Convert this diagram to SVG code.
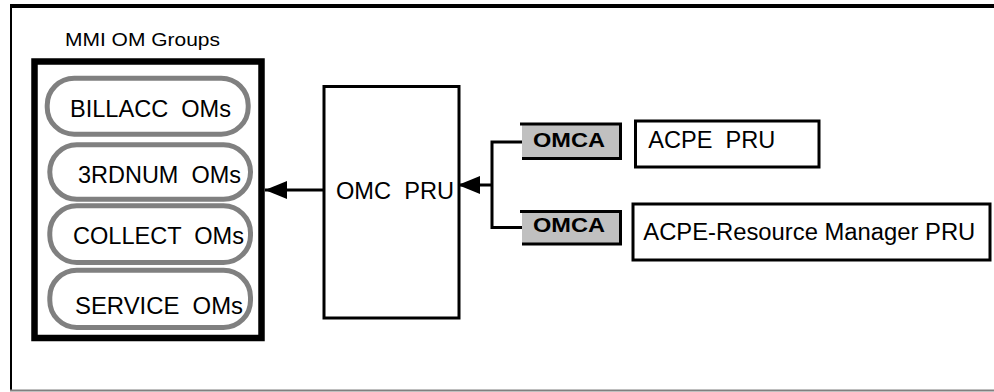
<svg xmlns="http://www.w3.org/2000/svg" width="994" height="392" viewBox="0 0 994 392">
<style>
text{font-family:"Liberation Sans",Arial,sans-serif;fill:#000;white-space:pre}
.t22{font-size:23px}
.lbl{font-size:19px}
.bold{font-size:21px;font-weight:bold}
.pill{fill:#fff;stroke:#808080;stroke-width:5}
.box{fill:#fff;stroke:#000;stroke-width:3}
.conn{fill:none;stroke:#000;stroke-width:3}
</style>
<defs>
<marker id="arr" markerUnits="userSpaceOnUse" markerWidth="22" markerHeight="18" refX="22" refY="9" orient="auto">
<path d="M0,0 L22,9 L0,18 Z" fill="#000"/>
</marker>
</defs>
<rect width="994" height="392" fill="#fff"/>
<g id="frame">
<line x1="10" y1="6" x2="994" y2="6" stroke="#000" stroke-width="4"/>
<line x1="11" y1="5" x2="11" y2="391" stroke="#000" stroke-width="2"/>
<line x1="10" y1="390.5" x2="994" y2="390.5" stroke="#808080" stroke-width="2"/>
</g>
<g id="mmi-om-groups">
<text class="lbl" x="65" y="45.5" textLength="155" lengthAdjust="spacingAndGlyphs">MMI OM Groups</text>
<rect x="34.5" y="61.5" width="227" height="276.5" fill="#fff" stroke="#000" stroke-width="6.5"/>
</g>
<g id="billacc">
<rect class="pill" x="47.2" y="78.2" width="201" height="56" rx="27" ry="27"/>
<text class="t22" x="70" y="116.7" textLength="161" lengthAdjust="spacingAndGlyphs">BILLACC  OMs</text>
</g>
<g id="3rdnum">
<rect class="pill" x="49.8" y="144.8" width="200.7" height="54.5" rx="27" ry="27"/>
<text class="t22" x="78" y="183.3" textLength="163" lengthAdjust="spacingAndGlyphs">3RDNUM  OMs</text>
</g>
<g id="collect">
<rect class="pill" x="49.8" y="205.8" width="200.7" height="56.7" rx="27" ry="27"/>
<text class="t22" x="73" y="244.3" textLength="171" lengthAdjust="spacingAndGlyphs">COLLECT  OMs</text>
</g>
<g id="service">
<rect class="pill" x="49.8" y="270.2" width="200.7" height="57.3" rx="27" ry="27"/>
<text class="t22" x="75" y="314.3" textLength="168" lengthAdjust="spacingAndGlyphs">SERVICE  OMs</text>
</g>
<g id="omc-pru">
<rect class="box" x="324" y="86.5" width="135" height="231.5"/>
<text class="t22" x="336" y="199.3" textLength="118" lengthAdjust="spacingAndGlyphs">OMC  PRU</text>
</g>
<g id="omca-1">
<rect x="522" y="124" width="98" height="34" fill="#c0c0c0"/>
<polyline points="520,124 620.5,124 620.5,158.5 522,158.5" fill="none" stroke="#000" stroke-width="3"/>
<text class="bold" x="533" y="146.7" textLength="72" lengthAdjust="spacingAndGlyphs">OMCA</text>
</g>
<g id="acpe-pru">
<rect class="box" x="635.5" y="121" width="183.5" height="46"/>
<text class="t22" x="648.3" y="148.3" textLength="127" lengthAdjust="spacingAndGlyphs">ACPE  PRU</text>
</g>
<g id="omca-2">
<rect x="522" y="212" width="98" height="32" fill="#c0c0c0"/>
<polyline points="520,211.5 620.5,211.5 620.5,244 522,244" fill="none" stroke="#000" stroke-width="3"/>
<text class="bold" x="533" y="231.7" textLength="72" lengthAdjust="spacingAndGlyphs">OMCA</text>
</g>
<g id="acpe-rm-pru">
<rect class="box" x="633" y="204" width="357" height="56"/>
<text class="t22" x="643.3" y="240" textLength="332" lengthAdjust="spacingAndGlyphs">ACPE-Resource Manager PRU</text>
</g>
<g id="connectors">
<line class="conn" x1="323" y1="190" x2="265" y2="190" marker-end="url(#arr)"/>
<polyline class="conn" points="522,142 492,142 492,227.5 522,227.5"/>
<line class="conn" x1="492" y1="185" x2="458" y2="185" marker-end="url(#arr)"/>
</g>
</svg>
